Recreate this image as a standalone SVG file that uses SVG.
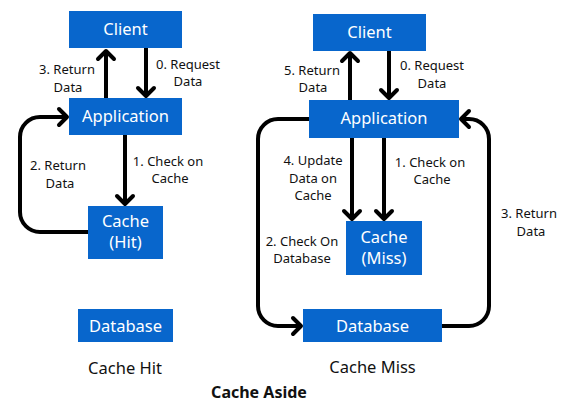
<svg xmlns="http://www.w3.org/2000/svg" width="571" height="408" viewBox="0 0 571 408">
<defs>
<style>
.box{fill:#0866CC;}
.nt{fill:#fff;font-family:"Noto Sans","Liberation Sans",sans-serif;font-size:16.5px;text-anchor:middle;}
.lb{fill:#111;font-family:"Noto Sans","Liberation Sans",sans-serif;font-size:13px;text-anchor:middle;}
.cap{fill:#111;font-family:"Noto Sans","Liberation Sans",sans-serif;font-size:16.5px;text-anchor:middle;}
.ttl{fill:#111;font-family:"Noto Sans","Liberation Sans",sans-serif;font-size:16px;font-weight:bold;text-anchor:middle;}
.cn{fill:none;stroke:#000;stroke-width:4;marker-end:url(#ah);}
</style>
<marker id="ah" markerUnits="userSpaceOnUse" viewBox="-12 -12 24 24" markerWidth="24" markerHeight="24" refX="0" refY="0" orient="auto">
<path d="M-8,-8 L0,0 L-8,8" fill="none" stroke="#000" stroke-width="4" stroke-linecap="round" stroke-linejoin="round"/>
</marker>
</defs>
<rect width="571" height="408" fill="#fff"/>

<g id="connectors">
<path class="cn" d="M106,98 V51"/>
<path class="cn" d="M146,48 V96"/>
<path class="cn" d="M125,135 V204"/>
<path class="cn" d="M88,232 H40 A20,20 0 0 1 20,212 V137 A20,20 0 0 1 40,117 H67"/>
<path class="cn" d="M350,100 V53"/>
<path class="cn" d="M389,51 V98"/>
<path class="cn" d="M352,138 V219"/>
<path class="cn" d="M384,138 V219"/>
<path class="cn" d="M309,119 H278 A20,20 0 0 0 258,139 V306 A20,20 0 0 0 278,326 H301"/>
<path class="cn" d="M442,326 H469 A20,20 0 0 0 489,306 V139 A20,20 0 0 0 469,119 H461"/>
</g>

<g id="labels">
<text class="lb" x="67" y="74">3. Return</text>
<text class="lb" x="68" y="92">Data</text>
<text class="lb" x="188" y="69">0. Request</text>
<text class="lb" x="188" y="86">Data</text>
<text class="lb" x="168" y="166">1. Check on</text>
<text class="lb" x="170" y="183">Cache</text>
<text class="lb" x="58" y="170">2. Return</text>
<text class="lb" x="60" y="188">Data</text>
<text class="lb" x="312" y="75">5. Return</text>
<text class="lb" x="313" y="92">Data</text>
<text class="lb" x="432" y="70">0. Request</text>
<text class="lb" x="432" y="88">Data</text>
<text class="lb" x="313" y="165">4. Update</text>
<text class="lb" x="313" y="183">Data on</text>
<text class="lb" x="313" y="200">Cache</text>
<text class="lb" x="430" y="167">1. Check on</text>
<text class="lb" x="432" y="184">Cache</text>
<text class="lb" x="529" y="218">3. Return</text>
<text class="lb" x="531" y="236">Data</text>
<text class="lb" x="302" y="246">2. Check On</text>
<text class="lb" x="302" y="263">Database</text>
</g>

<g id="client-hit"><rect class="box" x="69" y="11" width="113" height="37"/><text class="nt" x="125.5" y="35">Client</text></g>
<g id="application-hit"><rect class="box" x="69" y="98" width="113" height="37"/><text class="nt" x="125.5" y="122">Application</text></g>
<g id="cache-hit"><rect class="box" x="88" y="206" width="75" height="53"/><text class="nt" x="125.5" y="227">Cache</text><text class="nt" x="125.5" y="248">(Hit)</text></g>
<g id="database-hit"><rect class="box" x="78" y="309" width="95" height="33"/><text class="nt" x="125.5" y="332">Database</text></g>

<g id="client-miss"><rect class="box" x="313" y="14" width="113" height="37"/><text class="nt" x="369.5" y="38">Client</text></g>
<g id="application-miss"><rect class="box" x="309" y="100" width="150" height="38"/><text class="nt" x="384" y="124">Application</text></g>
<g id="cache-miss"><rect class="box" x="346" y="221" width="76" height="54"/><text class="nt" x="384" y="243">Cache</text><text class="nt" x="384" y="264">(Miss)</text></g>
<g id="database-miss"><rect class="box" x="303" y="309" width="139" height="33"/><text class="nt" x="372.5" y="332">Database</text></g>

<g id="captions">
<text class="cap" x="125" y="374">Cache Hit</text>
<text class="cap" x="372.5" y="373">Cache Miss</text>
<text class="ttl" x="259" y="398">Cache Aside</text>
</g>
</svg>
